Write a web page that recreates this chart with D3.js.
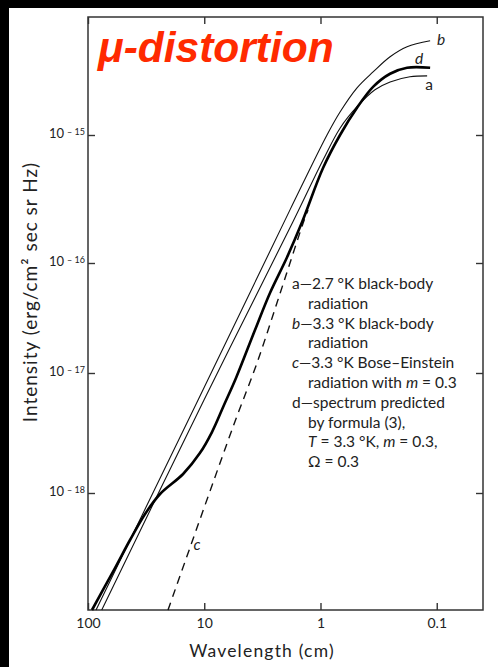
<!DOCTYPE html>
<html>
<head>
<meta charset="utf-8">
<script src="https://cdn.jsdelivr.net/npm/d3@7"></script>
<style>
  body { margin:0; background:#000; }
  svg { display:block; }
  .lbl { font-family: Lato, "Open Sans", sans-serif; fill:#222; }
</style>
</head>
<body>
<div id="chart"></div>
<script>
// wavelength (cm), intensity (erg/cm2 sec sr Hz)
var curveA = [[76.2,1.06e-19],[10.05,5.96e-18],[1.73,2.09e-16],[0.951,6.38e-16],[0.679,1.13e-15],
              [0.485,1.66e-15],[0.340,2.25e-15],[0.252,2.59e-15],[0.170,2.84e-15],[0.121,2.89e-15]];
var curveB = [[85.3,1.06e-19],[11.3,5.96e-18],[1.83,2.60e-16],[0.879,1.0e-15],[0.679,1.51e-15],
              [0.485,2.33e-15],[0.353,3.10e-15],[0.252,4.07e-15],[0.180,4.87e-15],[0.114,5.42e-15]];
var curveC = [[20.5,1.06e-19],[5.66,3.55e-18],[3.52,1.23e-17],[2.37,4.33e-17],[1.83,1.0e-16],
              [1.41,2.05e-16],[1.28,2.60e-16]];
var curveD = [[92.4,1.06e-19],[58.6,2.37e-19],[43.5,4.06e-19],[32.3,6.68e-19],[24.0,9.81e-19],
              [15.2,1.44e-18],[10.9,2.15e-18],[8.58,3.22e-18],[6.76,5.41e-18],[5.33,9.09e-18],
              [3.66,2.46e-17],[2.72,5.34e-17],[1.94,1.11e-16],[1.44,2.09e-16],[0.951,5.52e-16],
              [0.679,1.0e-15],[0.485,1.63e-15],[0.353,2.37e-15],[0.252,3.0e-15],[0.180,3.34e-15],
              [0.114,3.34e-15]];

var xTicks = [100, 10, 1, 0.1];
var xTickLabels = ["100", "10", "1", "0.1"];
var yTicks = [1e-15, 1e-16, 1e-17, 1e-18];
var yTickExps = ["15", "16", "17", "18"];

var legendLines = [
  [["a—2.7 °K black-body", false]],
  [["radiation", false]],
  [["b", true], ["—3.3 °K black-body", false]],
  [["radiation", false]],
  [["c", true], ["—3.3 °K Bose–Einstein", false]],
  [["radiation with ", false], ["m", true], [" = 0.3", false]],
  [["d—spectrum predicted", false]],
  [["by formula (3),", false]],
  [["T", true], [" = 3.3 °K, ", false], ["m", true], [" = 0.3,", false]],
  [["Ω = 0.3", false]]
];

var W = 498, H = 667;
var svg = d3.select("#chart").append("svg").attr("width", W).attr("height", H);

// black scan border, white page
svg.append("rect").attr("width", W).attr("height", H).attr("fill", "#000");
svg.append("rect").attr("x", 9).attr("y", 8).attr("width", W - 9).attr("height", H - 8).attr("fill", "#fff");

var pLeft = 88, pRight = 483, pTop = 17, pBottom = 610;

var x = d3.scaleLog().domain([100, 0.04]).range([pLeft, pRight]);
// the scanned figure has uneven decades, so the log scale is piecewise
var y = d3.scaleLog()
  .domain([8.3e-15, 1e-15, 1e-16, 1e-17, 1e-18, 1.06e-19])
  .range([pTop, 135, 263, 373, 493, pBottom]);

var axisCol = "#333";

function styleAxis(g) {
  g.select(".domain").remove();
  g.selectAll(".tick line").attr("stroke", axisCol).attr("stroke-width", 1.4);
}

svg.append("g").attr("transform", "translate(0," + pBottom + ")")
  .call(d3.axisBottom(x).tickValues(xTicks).tickSize(-7).tickPadding(8)
    .tickFormat(function(d, i) { return xTickLabels[i]; }))
  .call(styleAxis)
  .selectAll("text").attr("class", "lbl").style("font-size", "14px").attr("fill", "#333");

svg.append("g").attr("transform", "translate(0," + pTop + ")")
  .call(d3.axisTop(x).tickValues(xTicks).tickSize(-7).tickFormat(""))
  .call(styleAxis);

var yAx = svg.append("g").attr("transform", "translate(" + pLeft + ",0)")
  .call(d3.axisLeft(y).tickValues(yTicks).tickSize(-7).tickPadding(3).tickFormat(""))
  .call(styleAxis);
yAx.selectAll(".tick text").each(function(d, i) {
  var t = d3.select(this).attr("class", "lbl").attr("text-anchor", "end")
    .attr("x", -3).attr("dy", "0.2em").attr("fill", "#444").style("font-size", "13px");
  t.append("tspan").text("10");
  t.append("tspan").attr("dx", 3).attr("dy", "-0.35em").style("font-size", "9px").text("– " + yTickExps[i]);
});

svg.append("g").attr("transform", "translate(" + pRight + ",0)")
  .call(d3.axisRight(y).tickValues(yTicks).tickSize(-7).tickFormat(""))
  .call(styleAxis);

// frame
svg.append("rect").attr("x", pLeft).attr("y", pTop).attr("width", pRight - pLeft).attr("height", pBottom - pTop)
  .attr("fill", "none").attr("stroke", axisCol).attr("stroke-width", 1.5);

var line = d3.line().x(function(d) { return x(d[0]); }).y(function(d) { return y(d[1]); })
  .curve(d3.curveCatmullRom.alpha(0.5));

var plot = svg.append("g");
plot.append("path").datum(curveA).attr("d", line).attr("fill", "none").attr("stroke", "#111").attr("stroke-width", 1.1);
plot.append("path").datum(curveB).attr("d", line).attr("fill", "none").attr("stroke", "#111").attr("stroke-width", 1.1);
plot.append("path").datum(curveC).attr("d", line).attr("fill", "none").attr("stroke", "#111").attr("stroke-width", 1.4)
  .attr("stroke-dasharray", "8,6");
plot.append("path").datum(curveD).attr("d", line).attr("fill", "none").attr("stroke", "#000").attr("stroke-width", 2.6);

// curve letters
var curveLabels = [["b", 441, 45], ["d", 419, 64], ["a", 429, 90], ["c", 197, 550]];
svg.selectAll(".clbl").data(curveLabels).enter().append("text")
  .attr("class", "lbl clbl")
  .attr("x", function(d) { return d[1]; }).attr("y", function(d) { return d[2]; })
  .attr("text-anchor", "middle").style("font-size", "15.5px")
  .style("font-style", function(d) { return d[0] === "a" ? "normal" : "italic"; })
  .text(function(d) { return d[0]; });

// legend block
var leg = svg.append("text").attr("class", "lbl").style("font-size", "15.5px");
legendLines.forEach(function(parts, i) {
  var indent = (i === 0 || i === 2 || i === 4 || i === 6) ? 292 : 308;
  parts.forEach(function(p, j) {
    var ts = leg.append("tspan").text(p[0]).style("font-style", p[1] ? "italic" : "normal");
    if (j === 0) ts.attr("x", indent).attr("y", 289 + i * 19.8);
  });
});

// axis titles
svg.append("text").attr("class", "lbl")
  .attr("transform", "translate(37,292) rotate(-90)")
  .attr("text-anchor", "middle").style("font-size", "19px").style("letter-spacing", "1px")
  .text("Intensity  (erg/cm² sec sr Hz)");

svg.append("text").attr("class", "lbl")
  .attr("x", 262).attr("y", 657).attr("text-anchor", "middle")
  .style("font-size", "17.5px").style("letter-spacing", "1.2px")
  .text("Wavelength  (cm)");

// red overlay title
svg.append("text")
  .attr("x", 98).attr("y", 62)
  .style("font-family", "'Liberation Sans', Arial, sans-serif")
  .style("font-weight", "bold").style("font-style", "italic").style("font-size", "42.5px")
  .attr("fill", "#ff2a00")
  .text("μ-distortion");
</script>
</body>
</html>
